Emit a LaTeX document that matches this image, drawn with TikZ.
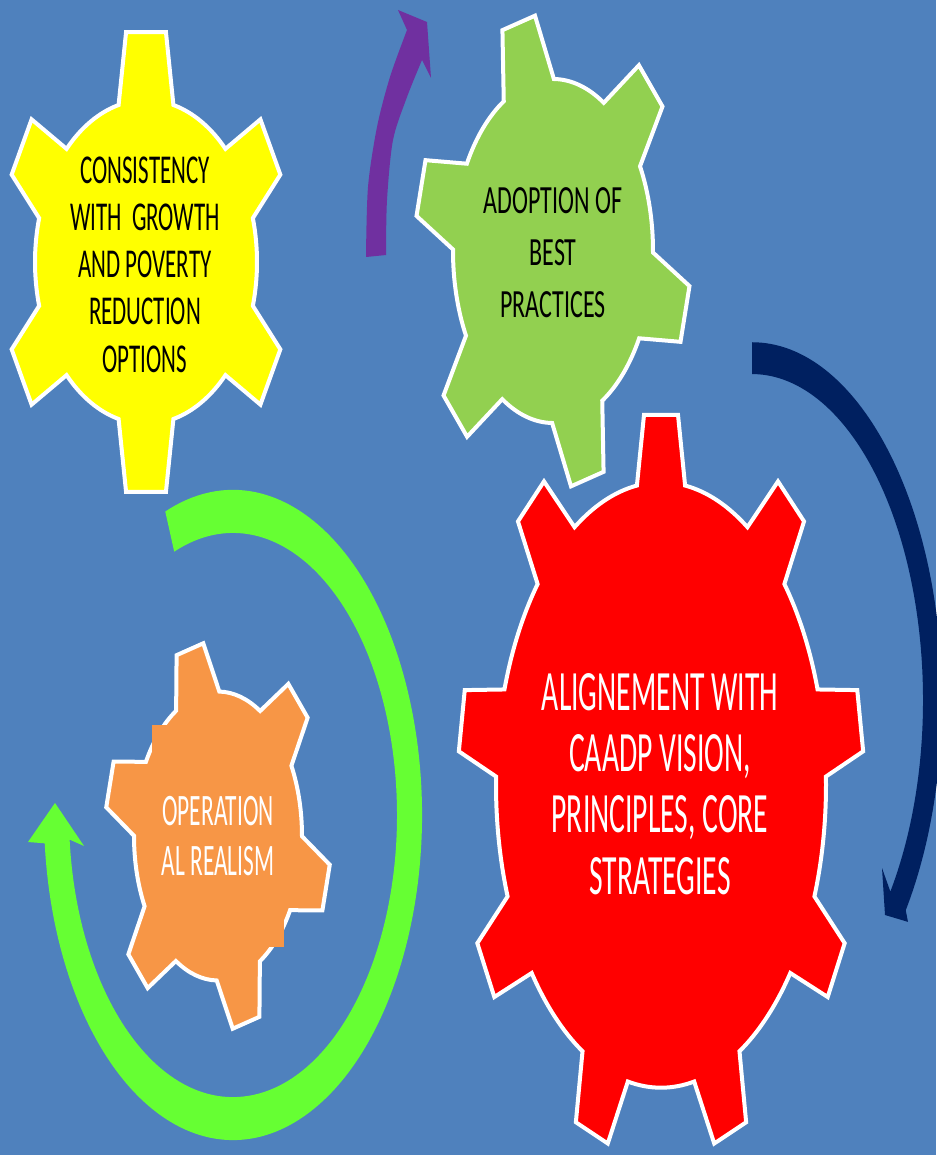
\documentclass[tikz,border=0pt]{standalone}
\usepackage{fontspec}
\usepackage{tikz}
\newfontfamily\yellowfont[FakeStretch=0.56]{Carlito}
\newfontfamily\greenfont[FakeStretch=0.6]{Carlito}
\newfontfamily\redfont[FakeStretch=0.52]{Carlito}

\definecolor{slideblue}{HTML}{4F81BD}
\definecolor{gearyellow}{HTML}{FFFF00}
\definecolor{geargreen}{HTML}{92D050}
\definecolor{gearred}{HTML}{FF0000}
\definecolor{gearorange}{HTML}{F79646}
\definecolor{arrowpurple}{HTML}{7030A0}
\definecolor{arrownavy}{HTML}{002060}
\definecolor{arrowlime}{HTML}{66FF33}

% gear: fill, body radii, tip radii, teeth, phase, base and tip half angles
\newcommand{\gear}[9]{%
  \pgfmathsetmacro{\gstep}{360/#6}
  \pgfmathtruncatemacro{\glast}{#6-1}
  \filldraw[gearline, fill=#1] ({#7-#8}:#2 and #3)
    \foreach \k [evaluate=\k as \t using #7+\k*\gstep] in {0,...,\glast} {
      -- ({\t-#9}:#4 and #5) -- ({\t+#9}:#4 and #5) -- ({\t+#8}:#2 and #3)
      arc[start angle=\t+#8, end angle=\t+\gstep-#8, x radius=#2, y radius=#3]
    } -- cycle;
}

\begin{document}
\begin{tikzpicture}[x=1pt,y=-1pt]
\tikzset{gearline/.style={draw=white,line width=4pt,line join=miter}}
\tikzset{geartext/.style={align=center,inner sep=0pt}}

  \useasboundingbox (0,0) rectangle (936,1155);
  \fill[slideblue] (0,0) rectangle (936,1155);

  % arrows
  \fill[arrowpurple] plot[smooth] coordinates {(366,257) (368,187) (377,127) (390,77) (407,30)}
    -- (398,10) -- (427,22) -- (431,78)
    -- plot[smooth] coordinates {(422,60) (407,97) (393,140) (387,200) (386,255)} -- cycle;

  \begin{scope}[shift={(752,700)},yscale=1.72]
    \fill[arrownavy] (-90:190 and 208) arc[start angle=-90, end angle=36, x radius=190, y radius=208]
      -- (156,129) -- (133,125) -- (130,97.7)
      -- (36:171 and 189.5) arc[start angle=36, end angle=-90, x radius=171, y radius=189.5] -- cycle;
  \end{scope}

  \begin{scope}[shift={(233,815)},yscale=1.72]
    \fill[arrowlime] (-111:189) arc[start angle=-111, end angle=175, radius=189]
      -- (-205,15.7) -- (-178,-7) -- (-149,18)
      -- (175:164) arc[start angle=175, end angle=-111, radius=164] -- cycle;
  \end{scope}

  % gears
  \begin{scope}[shift={(146,262)},yscale=1.72]
    \gear{gearyellow}{111}{94.2}{145}{135}{6}{-90}{14.3}{7.9}
  \end{scope}
  \begin{scope}[shift={(553,251)},yscale=1.72]
    \gear{geargreen}{100}{100}{138}{138}{6}{-104.5}{15}{7}
  \end{scope}
  \begin{scope}[shift={(661,785)},yscale=1.72]
    \gear{gearred}{165}{176}{203}{216}{9}{-90}{8.4}{4.8}
  \end{scope}
  \begin{scope}[shift={(218,836)},yscale=1.72]
    \gear{gearorange}{84}{84}{113}{113}{6}{-104.5}{15.4}{7}
  \end{scope}

  % labels
  \node[geartext, font=\yellowfont\fontsize{41}{47.3}\selectfont] (consistency) at (145,264.5)
    {CONSISTENCY\\WITH\ \ GROWTH\\AND POVERTY\\REDUCTION\\OPTIONS};
  \node[geartext, font=\greenfont\fontsize{40}{52}\selectfont] (adoption) at (553,252.5)
    {ADOPTION OF\\BEST\\PRACTICES};
  \node[geartext, text=white, font=\redfont\fontsize{57}{61.3}\selectfont] (alignement) at (660,784)
    {ALIGNEMENT WITH\\CAADP VISION,\\PRINCIPLES, CORE\\STRATEGIES};
  \node[geartext, fill=gearorange, text=white, minimum width=132pt, minimum height=222pt,
        font=\redfont\fontsize{45}{50}\selectfont] (realism) at (218,836)
    {OPERATION\\AL REALISM};

\end{tikzpicture}
\end{document}
